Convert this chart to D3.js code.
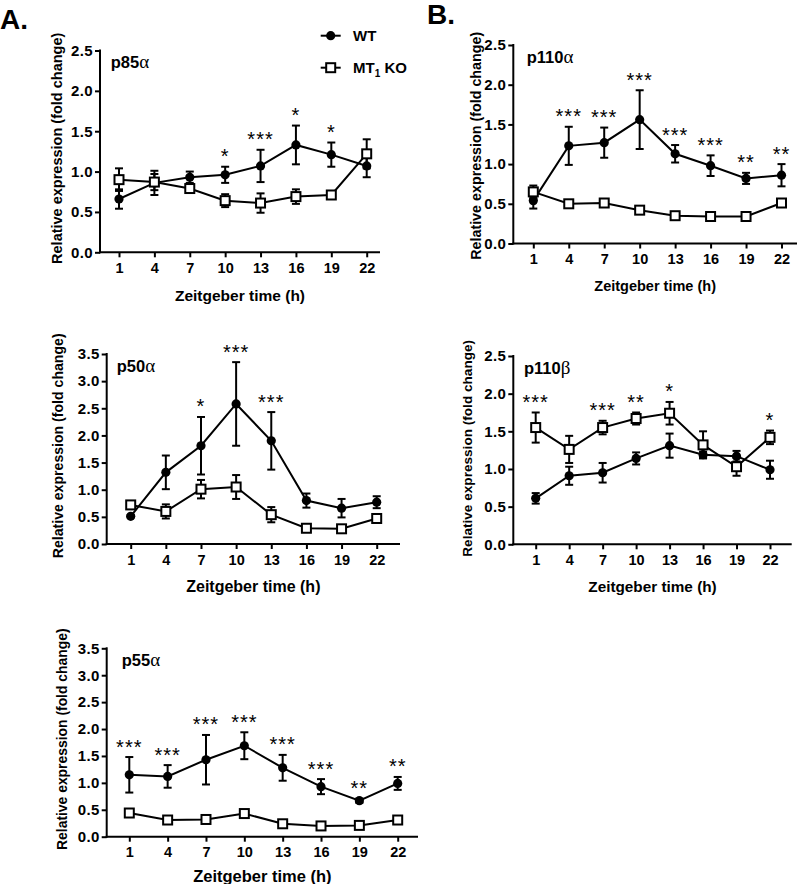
<!DOCTYPE html>
<html><head><meta charset="utf-8">
<script src="https://cdn.jsdelivr.net/npm/d3@7"></script>
<style>
body{margin:0;background:#fff}
svg{display:block}
text{font-family:"Liberation Sans",Arial,sans-serif;fill:#000}
</style>
</head><body>
<svg id="c" width="800" height="884"></svg>
<script>
// ---------- data ----------
const hours = [1, 4, 7, 10, 13, 16, 19, 22];
const yTicks25 = [0, 0.5, 1.0, 1.5, 2.0, 2.5];
const yTicks35 = [0, 0.5, 1.0, 1.5, 2.0, 2.5, 3.0, 3.5];
const seriesNames = ["WT", "MT1 KO"];

const p85_wt     = [0.66, 0.86, 0.93, 0.96, 1.07, 1.33, 1.21, 1.07];
const p85_wtErr  = [0.12, 0.15, 0.07, 0.10, 0.20, 0.24, 0.15, 0.14];
const p85_ko     = [0.90, 0.87, 0.79, 0.64, 0.61, 0.69, 0.71, 1.22];
const p85_koErr  = [0.14, 0.10, 0.05, 0.08, 0.12, 0.09, 0.03, 0.18];
const p85_stars  = ["", "", "", "*", "***", "*", "*", ""];

const p110a_wt    = [0.54, 1.23, 1.27, 1.56, 1.13, 0.98, 0.82, 0.86];
const p110a_wtErr = [0.10, 0.24, 0.19, 0.37, 0.11, 0.13, 0.07, 0.14];
const p110a_ko    = [0.65, 0.50, 0.51, 0.42, 0.35, 0.34, 0.34, 0.51];
const p110a_koErr = [0.08, 0.04, 0.03, 0.03, 0.03, 0.02, 0.02, 0.05];
const p110a_stars = ["", "***", "***", "***", "***", "***", "**", "**"];

const p50_wt     = [0.51, 1.32, 1.81, 2.58, 1.90, 0.80, 0.66, 0.77];
const p50_wtErr  = [0.02, 0.31, 0.53, 0.77, 0.53, 0.13, 0.17, 0.11];
const p50_ko     = [0.72, 0.60, 1.01, 1.05, 0.54, 0.29, 0.28, 0.47];
const p50_koErr  = [0.04, 0.13, 0.17, 0.22, 0.14, 0.02, 0.02, 0.03];
const p50_stars  = ["", "", "*", "***", "***", "", "", ""];

const p110b_wt    = [0.61, 0.91, 0.95, 1.14, 1.31, 1.19, 1.17, 0.99];
const p110b_wtErr = [0.07, 0.12, 0.13, 0.08, 0.16, 0.04, 0.07, 0.12];
const p110b_ko    = [1.55, 1.26, 1.55, 1.67, 1.74, 1.32, 1.03, 1.42];
const p110b_koErr = [0.20, 0.18, 0.09, 0.08, 0.15, 0.18, 0.12, 0.09];
const p110b_stars = ["***", "", "***", "**", "*", "", "", "*"];

const p55_wt     = [1.15, 1.12, 1.43, 1.69, 1.28, 0.93, 0.67, 0.99];
const p55_wtErr  = [0.33, 0.21, 0.46, 0.25, 0.24, 0.14, 0.04, 0.12];
const p55_ko     = [0.44, 0.31, 0.32, 0.43, 0.24, 0.20, 0.21, 0.31];
const p55_koErr  = [0.02, 0.02, 0.02, 0.06, 0.02, 0.02, 0.02, 0.02];
const p55_stars  = ["***", "***", "***", "***", "***", "***", "**", "**"];

// ---------- layout ----------
const panels = [
  {name:"p85", greek:"α", yMax:2.5, yTicks:yTicks25, wt:p85_wt, wtErr:p85_wtErr, ko:p85_ko, koErr:p85_koErr, stars:p85_stars,
   L:{x0:100, x1:119, x22:366.7, xEnd:380, yTop:50.5, yBot:252.3, tx:110.7, ty:68.3, ylx:57, yly:148.3, ylfs:14.5, xtfs:15.5, xty:301}},
  {name:"p110", greek:"α", yMax:2.5, yTicks:yTicks25, wt:p110a_wt, wtErr:p110a_wtErr, ko:p110a_ko, koErr:p110a_koErr, stars:p110a_stars,
   L:{x0:513.3, x1:533.3, x22:781.5, xEnd:797, yTop:45, yBot:243.5, tx:526.7, ty:63.3, ylx:476, yly:145.8, ylfs:14.3, xtfs:14.5, xty:290.5}},
  {name:"p50", greek:"α", yMax:3.5, yTicks:yTicks35, wt:p50_wt, wtErr:p50_wtErr, ko:p50_ko, koErr:p50_koErr, stars:p50_stars,
   L:{x0:106.7, x1:130.7, x22:376.7, xEnd:400, yTop:354, yBot:544, tx:116.7, ty:371.7, ylx:58, yly:445.8, ylfs:14.1, xtfs:16, xty:592}},
  {name:"p110", greek:"β", yMax:2.5, yTicks:yTicks25, wt:p110b_wt, wtErr:p110b_wtErr, ko:p110b_ko, koErr:p110b_koErr, stars:p110b_stars,
   L:{x0:513.3, x1:535.7, x22:770, xEnd:791.7, yTop:356, yBot:544.3, tx:524, ty:374.3, ylx:466.7, yly:448.3, ylfs:13.6, xtfs:15.3, xty:592}},
  {name:"p55", greek:"α", yMax:3.5, yTicks:yTicks35, wt:p55_wt, wtErr:p55_wtErr, ko:p55_ko, koErr:p55_koErr, stars:p55_stars,
   L:{x0:106.7, x1:129.3, x22:397.7, xEnd:418, yTop:648.3, yBot:836.7, tx:121.7, ty:666, ylx:61.7, yly:739.2, ylfs:13.9, xtfs:16.5, xty:882}}
];

const svg = d3.select("#c");
const SW = 2;

function drawPanel(p) {
  const L = p.L;
  const x = d3.scaleLinear().domain([1, 22]).range([L.x1, L.x22]);
  const y = d3.scaleLinear().domain([0, p.yMax]).range([L.yBot, L.yTop]);
  const g = svg.append("g");

  // y axis
  const ya = g.append("g").attr("transform", `translate(${L.x0},0)`)
    .call(d3.axisLeft(y).tickValues(p.yTicks).tickFormat(d3.format(".1f")).tickSize(5).tickPadding(2));
  ya.select(".domain").remove();
  ya.selectAll(".tick line").attr("stroke", "#000").attr("stroke-width", SW);
  ya.selectAll(".tick text").attr("font-size", 15).attr("font-weight", "bold")
    .attr("font-family", "Liberation Sans, Arial, sans-serif").attr("letter-spacing", 0.4);
  g.append("line").attr("x1", L.x0).attr("x2", L.x0).attr("y1", L.yTop - 1).attr("y2", L.yBot + 1)
    .attr("stroke", "#000").attr("stroke-width", SW);

  // x axis
  const xa = g.append("g").attr("transform", `translate(0,${L.yBot})`)
    .call(d3.axisBottom(x).tickValues(hours).tickFormat(d3.format("d")).tickSize(5).tickPadding(5.5));
  xa.select(".domain").remove();
  xa.selectAll(".tick line").attr("stroke", "#000").attr("stroke-width", SW);
  xa.selectAll(".tick text").attr("font-size", 14.5).attr("font-weight", "bold")
    .attr("font-family", "Liberation Sans, Arial, sans-serif");
  g.append("line").attr("x1", L.x0 - 1).attr("x2", L.xEnd).attr("y1", L.yBot).attr("y2", L.yBot)
    .attr("stroke", "#000").attr("stroke-width", SW);

  // axis titles
  g.append("text").attr("x", (L.x0 + L.xEnd) / 2).attr("y", L.xty)
    .attr("text-anchor", "middle").attr("font-size", L.xtfs).attr("font-weight", "bold")
    .text("Zeitgeber time (h)");
  g.append("text").attr("transform", `translate(${L.ylx + 5},${L.yly}) rotate(-90)`)
    .attr("text-anchor", "middle").attr("font-size", L.ylfs).attr("font-weight", "bold")
    .text("Relative expression (fold change)");

  // panel title
  const t = g.append("text").attr("x", L.tx).attr("y", L.ty).attr("font-size", 16.5).attr("font-weight", "bold");
  t.append("tspan").text(p.name);
  t.append("tspan").attr("font-family", "Liberation Serif, DejaVu Serif, serif").attr("font-weight", "normal")
    .attr("font-size", 19).text(p.greek);

  const series = [
    {vals: p.wt, err: p.wtErr, type: "wt"},
    {vals: p.ko, err: p.koErr, type: "ko"}
  ];
  const line = d3.line().x((d, i) => x(hours[i])).y(d => y(d));

  series.forEach(s => {
    g.append("path").datum(s.vals).attr("d", line).attr("fill", "none")
      .attr("stroke", "#000").attr("stroke-width", SW);
  });
  series.forEach(s => {
    const eg = g.append("g");
    s.vals.forEach((v, i) => {
      const cx = x(hours[i]);
      const yt = y(v + s.err[i]), yb = y(Math.max(0, v - s.err[i]));
      eg.append("line").attr("x1", cx).attr("x2", cx).attr("y1", yt).attr("y2", yb)
        .attr("stroke", "#000").attr("stroke-width", SW);
      [yt, yb].forEach(yy => eg.append("line").attr("x1", cx - 4).attr("x2", cx + 4)
        .attr("y1", yy).attr("y2", yy).attr("stroke", "#000").attr("stroke-width", SW));
    });
  });
  series.forEach(s => {
    s.vals.forEach((v, i) => {
      const cx = x(hours[i]), cy = y(v);
      if (s.type === "wt") {
        g.append("circle").attr("cx", cx).attr("cy", cy).attr("r", 4.6).attr("fill", "#000");
      } else {
        g.append("rect").attr("x", cx - 4.5).attr("y", cy - 4.5).attr("width", 9).attr("height", 9)
          .attr("fill", "#fff").attr("stroke", "#000").attr("stroke-width", SW);
      }
    });
  });

  // significance stars
  p.stars.forEach((s, i) => {
    if (!s) return;
    const top = Math.max(p.wt[i] + p.wtErr[i], p.ko[i] + p.koErr[i]);
    const cy = y(top) - 15;
    g.append("text").attr("x", x(hours[i])).attr("y", cy + 11.5)
      .attr("text-anchor", "middle").attr("font-size", 20).attr("letter-spacing", 1)
      .text(s);
  });
}

panels.forEach(drawPanel);

// panel letters
svg.append("text").attr("x", 0).attr("y", 29).attr("font-size", 28).attr("font-weight", "bold").text("A.");
svg.append("text").attr("x", 427).attr("y", 24).attr("font-size", 28).attr("font-weight", "bold").text("B.");

// legend
const leg = svg.append("g");
const legY = [35.7, 67.7];
seriesNames.forEach((nm, i) => {
  const yy = legY[i];
  leg.append("line").attr("x1", 320.7).attr("x2", 340.7).attr("y1", yy).attr("y2", yy)
    .attr("stroke", "#000").attr("stroke-width", SW);
  if (i === 0) {
    leg.append("circle").attr("cx", 330.7).attr("cy", yy).attr("r", 4.6).attr("fill", "#000");
  } else {
    leg.append("rect").attr("x", 326.2).attr("y", yy - 4.5).attr("width", 9).attr("height", 9)
      .attr("fill", "#fff").attr("stroke", "#000").attr("stroke-width", SW);
  }
  const t = leg.append("text").attr("x", 353).attr("y", yy + 5.5).attr("font-size", 15).attr("font-weight", "bold");
  if (nm === "MT1 KO") {
    t.append("tspan").text("MT");
    t.append("tspan").attr("font-size", 10).attr("dy", 4).text("1");
    t.append("tspan").attr("dy", -4).text(" KO");
  } else {
    t.text(nm);
  }
});
</script>
</body></html>
